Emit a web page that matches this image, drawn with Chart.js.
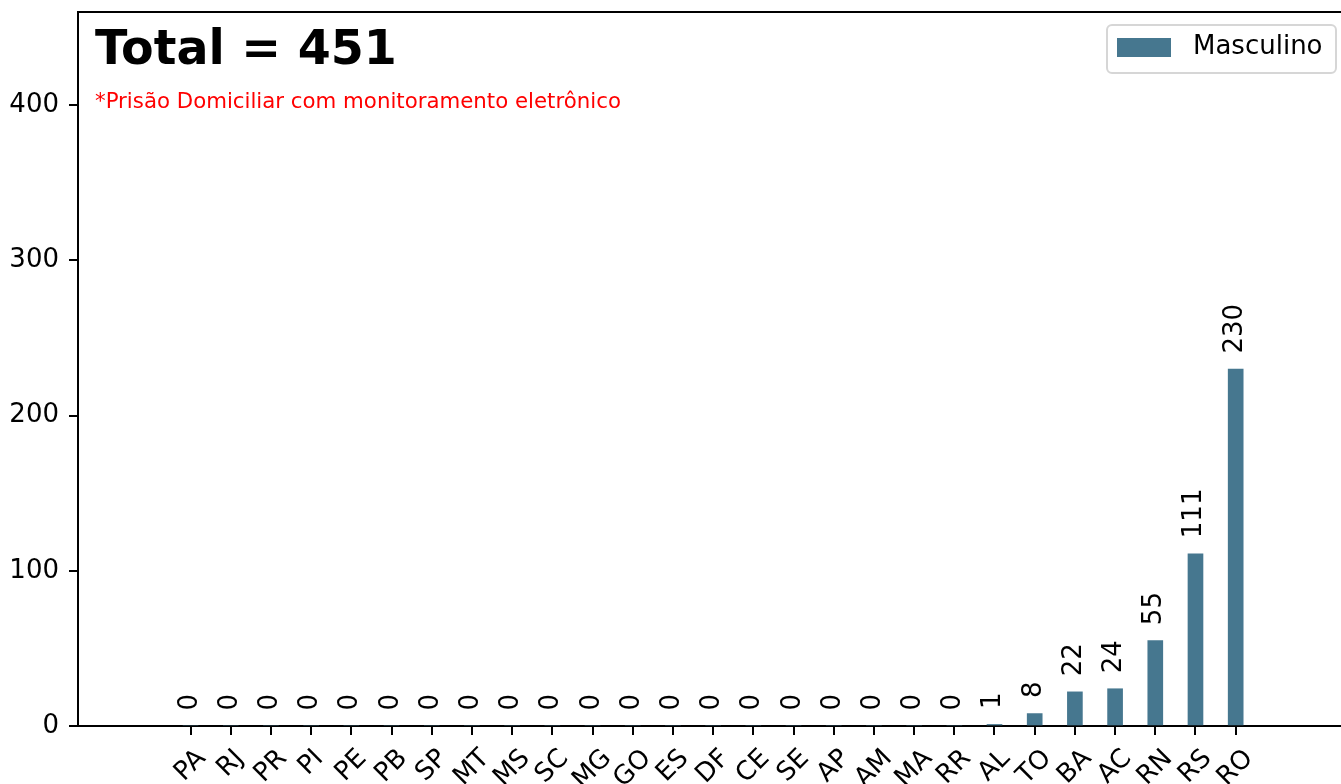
<!DOCTYPE html>
<html>
<head>
<meta charset="utf-8">
<script src="https://cdn.jsdelivr.net/npm/chart.js@4/dist/chart.umd.min.js"></script>
<style>
  html, body { margin: 0; padding: 0; background: #fff; }
  #wrap { width: 1341px; height: 784px; }
</style>
</head>
<body>
<div id="wrap"><canvas id="chart" width="1341" height="784"></canvas></div>
<script>
// data
const states = ['PA', 'RJ', 'PR', 'PI', 'PE', 'PB', 'SP', 'MT', 'MS', 'SC', 'MG', 'GO', 'ES', 'DF',
  'CE', 'SE', 'AP', 'AM', 'MA', 'RR', 'AL', 'TO', 'BA', 'AC', 'RN', 'RS', 'RO'];
const masculino = [0, 0, 0, 0, 0, 0, 0, 0, 0, 0, 0, 0, 0, 0,
  0, 0, 0, 0, 0, 0, 1, 8, 22, 24, 55, 111, 230];
const yTicks = [0, 100, 200, 300, 400];
const subtitle = '*Prisão Domiciliar com monitoramento eletrônico';

const total = masculino.reduce((a, b) => a + b, 0);
const barColor = '#46778f';
const font = 'DejaVu Sans';
const fs = 26;

// value labels above bars, rotated
const valueLabels = {
  id: 'valueLabels',
  afterDatasetsDraw(chart) {
    const ctx = chart.ctx;
    const meta = chart.getDatasetMeta(0);
    ctx.save();
    ctx.font = fs + 'px "' + font + '"';
    ctx.fillStyle = '#000';
    ctx.textAlign = 'left';
    ctx.textBaseline = 'alphabetic';
    meta.data.forEach((bar, i) => {
      ctx.save();
      ctx.translate(bar.x + 6, bar.y - 15.5);
      ctx.rotate(-Math.PI / 2);
      ctx.fillText(String(masculino[i]), 0, 0);
      ctx.restore();
    });
    ctx.restore();
  }
};

// x labels, rotated 45 and centred under each tick like matplotlib
const xLabels = {
  id: 'xLabels',
  afterDraw(chart) {
    const ctx = chart.ctx;
    const xs = chart.scales.x;
    const top = chart.chartArea.bottom + 9 + 8.75;
    const h = fs * 1.164;
    ctx.save();
    ctx.font = fs + 'px "' + font + '"';
    ctx.fillStyle = '#000';
    ctx.textAlign = 'center';
    ctx.textBaseline = 'middle';
    states.forEach((s, i) => {
      const w = ctx.measureText(s).width;
      const bh = (w + h) * Math.SQRT1_2;
      ctx.save();
      ctx.translate(xs.getPixelForValue(i), top + bh / 2);
      ctx.rotate(-Math.PI / 4);
      ctx.fillText(s, 0, 0);
      ctx.restore();
    });
    ctx.restore();
  }
};

// title, note, legend and top spine
const decorations = {
  id: 'decorations',
  afterDraw(chart) {
    const ctx = chart.ctx;
    const a = chart.chartArea;
    ctx.save();
    ctx.strokeStyle = '#000';
    ctx.lineWidth = 2;
    ctx.beginPath();
    ctx.moveTo(a.left - 1, a.top);
    ctx.lineTo(a.right, a.top);
    ctx.stroke();

    ctx.fillStyle = '#000';
    ctx.textAlign = 'left';
    ctx.textBaseline = 'alphabetic';
    ctx.font = 'bold 47.5px "' + font + '"';
    ctx.fillText('Total = ' + total, 95, 64);
    ctx.fillStyle = '#ff0000';
    ctx.font = '21.3px "' + font + '"';
    ctx.fillText(subtitle, 95, 108);

    // legend
    const lx = 1107, ly = 25, lw = 229, lh = 48;
    ctx.beginPath();
    ctx.roundRect(lx, ly, lw, lh, 5);
    ctx.fillStyle = 'rgba(255,255,255,0.8)';
    ctx.fill();
    ctx.strokeStyle = '#d6d6d6';
    ctx.lineWidth = 2;
    ctx.stroke();
    ctx.fillStyle = barColor;
    ctx.fillRect(1117, 38, 54, 19);
    ctx.fillStyle = '#000';
    ctx.font = fs + 'px "' + font + '"';
    ctx.textBaseline = 'middle';
    ctx.fillText(chart.data.datasets[0].label, 1193, 47);
    ctx.restore();
  }
};

new Chart(document.getElementById('chart'), {
  type: 'bar',
  data: {
    datasets: [{
      label: 'Masculino',
      data: masculino.map((v, i) => ({ x: i, y: v })),
      backgroundColor: barColor,
      borderWidth: 0,
      barThickness: 15
    }]
  },
  options: {
    responsive: false,
    animation: false,
    devicePixelRatio: 1,
    layout: { padding: { top: 12, right: 0, left: 0, bottom: 0 } },
    plugins: {
      legend: { display: false },
      tooltip: { enabled: false }
    },
    scales: {
      x: {
        type: 'linear',
        min: -2.8,
        max: 28.62,
        offset: false,
        afterBuildTicks: (axis) => { axis.ticks = states.map((_, i) => ({ value: i })); },
        afterFit: (scale) => {
          scale.height = 58;
          scale.paddingLeft = 0; scale.paddingRight = 0;
          scale.paddingTop = 0; scale.paddingBottom = 0;
        },
        grid: { offset: false, drawOnChartArea: false, drawTicks: true, tickLength: 9, color: '#000', lineWidth: 2 },
        border: { display: true, color: '#000', width: 2 },
        ticks: {
          autoSkip: false,
          maxRotation: 0,
          minRotation: 0,
          color: 'rgba(0,0,0,0)',
          font: { family: font, size: fs },
          callback: (v) => states[v] || ''
        }
      },
      y: {
        min: 0,
        max: 460,
        afterBuildTicks: (axis) => { axis.ticks = yTicks.map(v => ({ value: v })); },
        afterFit: (scale) => {
          scale.width = 78;
          scale.paddingTop = 0; scale.paddingBottom = 0;
          scale.paddingLeft = 0; scale.paddingRight = 0;
        },
        grid: { drawOnChartArea: false, drawTicks: true, tickLength: 9, color: '#000', lineWidth: 2 },
        border: { display: true, color: '#000', width: 2 },
        ticks: {
          color: '#000',
          padding: 10,
          font: { family: font, size: fs }
        }
      }
    }
  },
  plugins: [valueLabels, xLabels, decorations]
});
</script>
</body>
</html>
